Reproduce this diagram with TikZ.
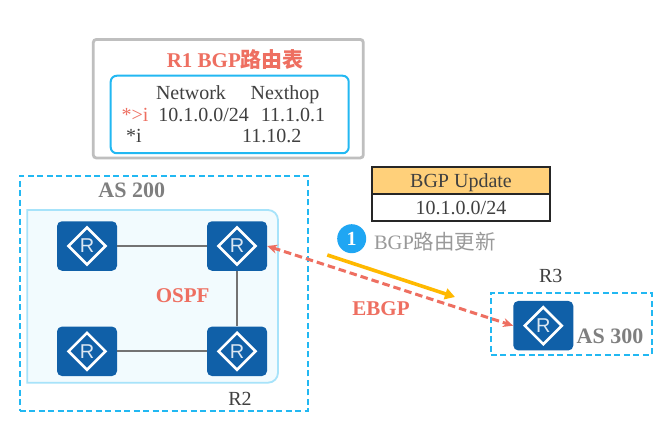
\documentclass[tikz,border=0pt]{standalone}
\usepackage{fontspec}
\setmainfont{Liberation Serif}
\newfontfamily\cjkf{Noto Sans CJK SC}
\newfontfamily\lsans{Liberation Sans}
\usetikzlibrary{shapes.geometric,arrows.meta}
\definecolor{hwblue}{HTML}{1060A8}
\definecolor{cyanl}{HTML}{22B8F2}
\definecolor{redt}{HTML}{EE6F61}
\definecolor{grayt}{HTML}{7F7F7F}
\definecolor{darkt}{HTML}{404040}
\definecolor{orangeh}{HTML}{FFD07A}
\definecolor{yell}{HTML}{FFB900}
\tikzset{
  txt/.style={inner sep=0pt,anchor=base,text=darkt,font=\fontsize{20}{22}\selectfont},
  redbold/.style={inner sep=0pt,text=redt,font=\fontsize{21}{24}\selectfont\bfseries},
  graybold/.style={inner sep=0pt,text=grayt,font=\fontsize{22}{24}\selectfont\bfseries},
  routerbox/.style={fill=hwblue,rounded corners=5pt,minimum width=60pt,minimum height=49.5pt,inner sep=0pt},
  routerdia/.style={diamond,draw=white,line width=2.6pt,aspect=1,minimum size=38pt,inner sep=0pt,text=white!85!hwblue,font=\lsans\fontsize{20}{20}\selectfont},
  asbox/.style={draw=cyanl,line width=2pt,dash pattern=on 6pt off 3.5pt},
  link/.style={draw=gray!90!black,line width=2.2pt},
  cell/.style={draw=black!85,line width=1.8pt,minimum width=177.5pt,minimum height=27pt,inner sep=0pt,text height=15pt,text depth=2pt,text=darkt,font=\fontsize{20}{22}\selectfont},
}
\begin{document}
\begin{tikzpicture}[x=1pt,y=-1pt]
\useasboundingbox (0,0) rectangle (664,441);
\fill[white] (0,0) rectangle (664,441);
% routing table
\node[draw=black!25,line width=2.8pt,rounded corners=3pt,minimum width=270pt,minimum height=118.5pt,inner sep=0pt] (tbl) at (228.3,98.7) {};
\node[draw=cyanl,line width=2pt,rounded corners=6pt,minimum width=238pt,minimum height=77.5pt,inner sep=0pt] (tblin) at (229.7,114.5) {};
\node[redbold] (title) at (235.3,59.3) {R1 BGP{\cjkf 路由表}};
\node[txt] (hnet) at (191,100) {Network};
\node[txt] (hnext) at (285,100) {Nexthop};
\node[txt,text=redt] (flag1) at (135,121.5) {*>i};
\node[txt] (net1) at (203.7,121.5) {10.1.0.0/24};
\node[txt] (hop1) at (293,121.5) {11.1.0.1};
\node[txt] (flag2) at (134,142.5) {*i};
\node[txt] (hop2) at (271.7,142.5) {11.10.2};
% AS 200
\node[asbox,minimum width=288.3pt,minimum height=235.3pt,inner sep=0pt] (as200) at (163.8,293.3) {};
\path[draw=cyanl!40,fill=cyanl!6,line width=1.8pt] (27.3,210) [rounded corners=10pt] -- (278,210) -- (278,382.7) [rounded corners=0pt] -- (27.3,382.7) -- cycle;
\node[graybold] (as200t) at (131.7,190) {AS 200};
\node[redbold] (ospf) at (182.7,295.3) {OSPF};
\node[txt] (r2t) at (240,405) {R2};
% routers
\node[routerbox] (ra) at (87,246) {};
\node[routerbox] (rb) at (237,246) {};
\node[routerbox] (rc) at (87,351.3) {};
\node[routerbox] (rd) at (237,351.3) {};
\node[routerbox] (re) at (543.3,325.7) {};
\foreach \r in {ra,rb,rc,rd,re}
  \node[routerdia] (\r d) at (\r) {R};
\draw[link] (ra) -- (rb);
\draw[link] (rc) -- (rd);
\draw[link] (rb) -- (rd);
% AS 300
\node[asbox,minimum width=160.7pt,minimum height=62.3pt,inner sep=0pt] (as300) at (571.3,323.8) {};
\node[txt] (r3t) at (550.7,282) {R3};
\node[graybold] (as300t) at (610,336.7) {AS 300};
% update
\node[cell,fill=orangeh] (uph) at (461,180.8) {BGP Update};
\node[cell,fill=white] (upb) at (461,207.8) {10.1.0.0/24};
\node[circle,fill=cyanl!90!blue,minimum size=29pt,inner sep=0pt,text=white,font=\fontsize{20}{20}\selectfont\bfseries] (num) at (351.7,238.7) {1};
\node[inner sep=0pt,text=black!40,font=\fontsize{20.5}{24}\selectfont] (updt) at (435,241.7) {BGP{\cjkf 路由更新}};
% connectors
\coordinate (ya) at (327.3,255);
\coordinate (yb) at (455,297);
\draw[yell,line width=3.6pt,-{Triangle[length=10pt,width=11pt]}] (ya) -- (yb);
\draw[redt,line width=3pt,dash pattern=on 7.5pt off 4pt,{Stealth[length=10pt,width=9pt]}-{Stealth[length=10pt,width=9pt]}] (rb.east) -- (re.west);
\node[redbold] (ebgp) at (381,309) {EBGP};
\end{tikzpicture}
\end{document}
